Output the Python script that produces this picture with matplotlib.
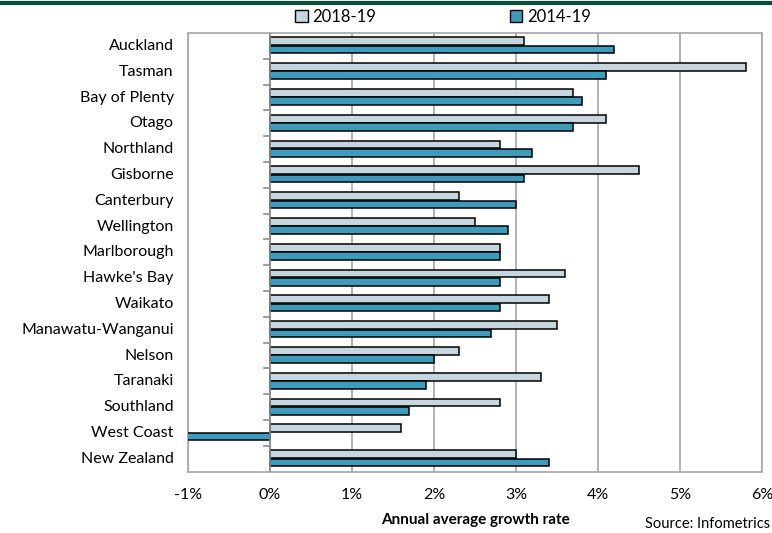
import numpy as np
import matplotlib
matplotlib.use("Agg")
import matplotlib.pyplot as plt
from matplotlib.patches import Patch
import matplotlib.transforms as mtransforms

plt.rcParams['font.family'] = ['Lato', 'DejaVu Sans']

regions = ['Auckland', 'Tasman', 'Bay of Plenty', 'Otago', 'Northland', 'Gisborne',
           'Canterbury', 'Wellington', 'Marlborough', "Hawke's Bay", 'Waikato',
           'Manawatu-Wanganui', 'Nelson', 'Taranaki', 'Southland', 'West Coast',
           'New Zealand']
growth_2018_19 = [3.1, 5.8, 3.7, 4.1, 2.8, 4.5, 2.3, 2.5, 2.8, 3.6, 3.4, 3.5, 2.3, 3.3, 2.8, 1.6, 3.0]
growth_2014_19 = [4.2, 4.1, 3.8, 3.7, 3.2, 3.1, 3.0, 2.9, 2.8, 2.8, 2.8, 2.7, 2.0, 1.9, 1.7, -1.3, 3.4]
xticks = [-1, 0, 1, 2, 3, 4, 5, 6]

light = '#c6d6de'
teal = '#3f9bbb'
grid_col = '#a6a6a6'

fig = plt.figure(figsize=(7.72, 5.33), dpi=100)
ax = fig.add_axes([0.2435, 0.115, 0.7435, 0.823])

y = np.arange(len(regions))
h = 0.3
ax.barh(y - h / 2 - 0.03, growth_2018_19, height=h, color=light, edgecolor='black', linewidth=1.1, zorder=3)
ax.barh(y + h / 2 - 0.01, growth_2014_19, height=h, color=teal, edgecolor='black', linewidth=1.1, zorder=3)

ax.set_xlim(-1, 6)
ax.set_ylim(len(regions) - 0.5, -0.5)
ax.set_xticks(xticks)
ax.set_xticklabels(['%d%%' % t for t in xticks], fontsize=11.5)
ax.tick_params(axis='x', length=0, pad=12)
ax.grid(axis='x', color=grid_col, linewidth=1.2, zorder=0)
ax.set_yticks([])
for s in ax.spines.values():
    s.set_color(grid_col)
    s.set_linewidth(1.2)

# category axis at zero with boundary ticks
ax.axvline(0, color='#8c8c8c', linewidth=1.2, zorder=4)
for b in np.arange(0.5, len(regions) - 0.5, 1.0):
    ax.plot([-0.07, 0], [b, b], color='#8c8c8c', linewidth=1.2, zorder=4, clip_on=False)

lab_tr = mtransforms.blended_transform_factory(ax.transAxes, ax.transData)
for i, r in enumerate(regions):
    ax.text(-0.025, i, r, transform=lab_tr, ha='right', va='center', fontsize=11.5)

ax.set_xlabel('Annual average growth rate', fontsize=11, fontweight='bold', labelpad=8)

fig.text(0.998, 0.004, 'Source: Infometrics', ha='right', va='bottom', fontsize=10.5)

# top rule
fig.add_artist(plt.Line2D([0, 1], [0.995, 0.995], color='#0b4d3b', linewidth=3, transform=fig.transFigure))

handles = [Patch(facecolor=light, edgecolor='black', linewidth=1.0),
           Patch(facecolor=teal, edgecolor='black', linewidth=1.0)]
fig.legend(handles, ['2018-19', '2014-19'], loc='center', bbox_to_anchor=(0.574, 0.968), ncol=2,
           frameon=False, fontsize=12, handlelength=0.75, handleheight=0.75, handletextpad=0.3,
           columnspacing=8.0)

fig.savefig('out.png', dpi=100)
